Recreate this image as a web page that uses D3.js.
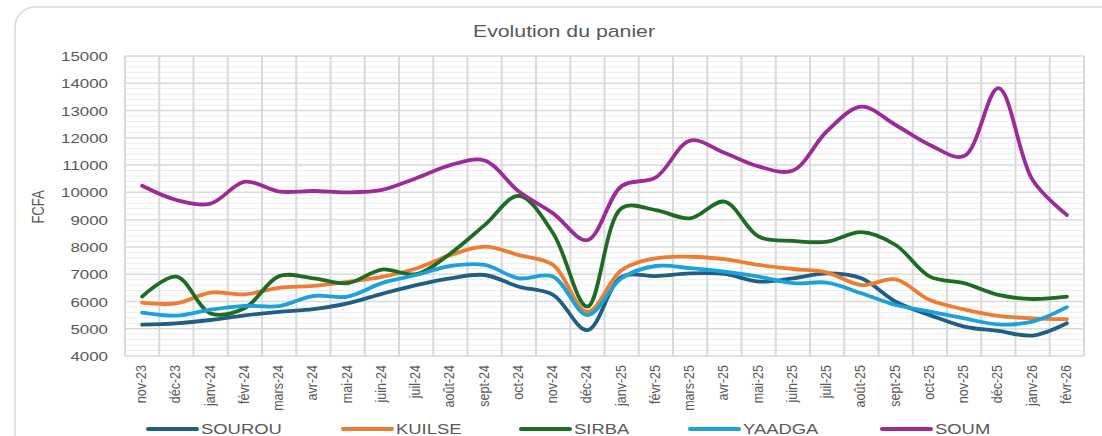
<!DOCTYPE html>
<html><head><meta charset="utf-8">
<script src="https://cdn.jsdelivr.net/npm/d3@7"></script>
<style>body{margin:0;background:#fff}svg{display:block}text{font-family:"Liberation Sans",Arial,sans-serif;fill:#595959}</style>
</head><body>
<svg id="c" width="1102" height="436"></svg>
<script>
const months = ["nov-23","déc-23","janv-24","févr-24","mars-24","avr-24","mai-24","juin-24","juil-24","août-24","sept-24","oct-24","nov-24","déc-24","janv-25","févr-25","mars-25","avr-25","mai-25","juin-25","juil-25","août-25","sept-25","oct-25","nov-25","déc-25","janv-26","févr-26"];
const seriesNames = ["SOUROU","KUILSE","SIRBA","YAADGA","SOUM"];
const sourou = [5150,5200,5320,5490,5620,5720,5930,6280,6600,6850,6970,6540,6240,4950,6900,6930,7030,7010,6730,6850,7030,6850,5990,5500,5080,4920,4750,5200];
const kuilse = [5960,5930,6320,6260,6500,6570,6720,6900,7210,7700,8010,7700,7340,5620,7150,7580,7640,7550,7340,7190,7060,6600,6810,6050,5710,5470,5380,5350];
const sirba  = [6180,6910,5560,5760,6930,6850,6670,7170,7000,7760,8800,9870,8500,5810,9420,9350,9050,9660,8380,8220,8190,8540,8070,6910,6670,6240,6090,6180];
const yaadga = [5590,5480,5700,5840,5830,6200,6180,6670,6970,7300,7340,6850,6910,5500,6850,7300,7220,7090,6910,6670,6690,6300,5870,5630,5380,5160,5260,5790];
const soum   = [10240,9720,9590,10390,10030,10050,10000,10090,10520,11000,11170,10030,9230,8250,10230,10550,11900,11450,10950,10800,12250,13140,12470,11740,11330,13820,10450,9170];
const yTicks = [4000,5000,6000,7000,8000,9000,10000,11000,12000,13000,14000,15000];
const colors = ["#1f5f86","#ed7d31","#1e6b24","#1ba1db","#9e2a96"];
const allSeries = [sourou,kuilse,sirba,yaadga,soum];

const svg = d3.select("#c");
const L=125,R=1084,T=56,B=356;
const x = d3.scaleBand().domain(months).range([L,R]);
const y = d3.scaleLinear().domain([4000,15000]).range([B,T]);

// outer frame
svg.append("rect").attr("x",15).attr("y",7).attr("width",1110).attr("height",460)
  .attr("rx",20).attr("fill","#fff").attr("stroke","#d9d9d9").attr("stroke-width",1.5);

// minor gridlines
const minor = d3.range(4000,15000,200).filter(v=>v%1000!==0);
svg.append("g").selectAll("line").data(minor).join("line")
  .attr("x1",L).attr("x2",R).attr("y1",d=>y(d)).attr("y2",d=>y(d))
  .attr("stroke","#ededed").attr("stroke-width",1);
// major horizontal gridlines
svg.append("g").selectAll("line").data(yTicks).join("line")
  .attr("x1",L).attr("x2",R).attr("y1",d=>y(d)).attr("y2",d=>y(d))
  .attr("stroke","#d9d9d9").attr("stroke-width",1.5);
// vertical gridlines
const bounds = months.map(m=>x(m)).concat([R]);
svg.append("g").selectAll("line").data(bounds).join("line")
  .attr("x1",d=>d).attr("x2",d=>d).attr("y1",T).attr("y2",B)
  .attr("stroke","#d9d9d9").attr("stroke-width",2);

// y axis labels
const yAxis = d3.axisLeft(y).tickValues(yTicks).tickFormat(d3.format("d")).tickSize(0).tickPadding(0);
const gy = svg.append("g").attr("transform",`translate(${L-17},0)`).call(yAxis);
gy.select(".domain").remove();
gy.selectAll("text").attr("font-size",13).attr("fill","#595959")
  .attr("font-family","Liberation Sans, Arial, sans-serif")
  .attr("x",0).attr("dy","0.35em").attr("transform","scale(1.3,1)");

// x axis labels
const xAxis = d3.axisBottom(x).tickSize(0).tickPadding(0);
const gx = svg.append("g").attr("transform",`translate(0,${B})`).call(xAxis);
gx.select(".domain").remove();
gx.selectAll("text").attr("font-size",12.5).attr("fill","#595959")
  .attr("font-family","Liberation Sans, Arial, sans-serif")
  .attr("text-anchor","end").attr("dy",null).attr("y",null)
  .attr("transform","translate(4,9) rotate(-90) scale(1,1.15)");

// lines
const line = d3.line().x((d,i)=>x(months[i])+x.bandwidth()/2).y(d=>y(d)).curve(d3.curveCatmullRom.alpha(0.5));
allSeries.forEach((s,k)=>{
  svg.append("path").datum(s).attr("d",line).attr("fill","none")
    .attr("stroke",colors[k]).attr("stroke-width",3.8)
    .attr("stroke-linecap","round").attr("stroke-linejoin","round");
});

// title
svg.append("text").attr("transform","translate(564,37) scale(1.33,1)")
  .attr("text-anchor","middle").attr("font-size",16).text("Evolution du panier");
// y title
svg.append("text").attr("transform","translate(44,207) rotate(-90) scale(1,1.25)")
  .attr("text-anchor","middle").attr("font-size",13).text("FCFA");

// legend
const legX = [148,343,521,690,882];
seriesNames.forEach((n,k)=>{
  const g = svg.append("g");
  g.append("line").attr("x1",legX[k]).attr("x2",legX[k]+49).attr("y1",429).attr("y2",429)
    .attr("stroke",colors[k]).attr("stroke-width",4).attr("stroke-linecap","round");
  g.append("text").attr("transform",`translate(${legX[k]+53},434) scale(1.27,1)`)
    .attr("font-size",14.5).text(n);
});
</script>
</body></html>
